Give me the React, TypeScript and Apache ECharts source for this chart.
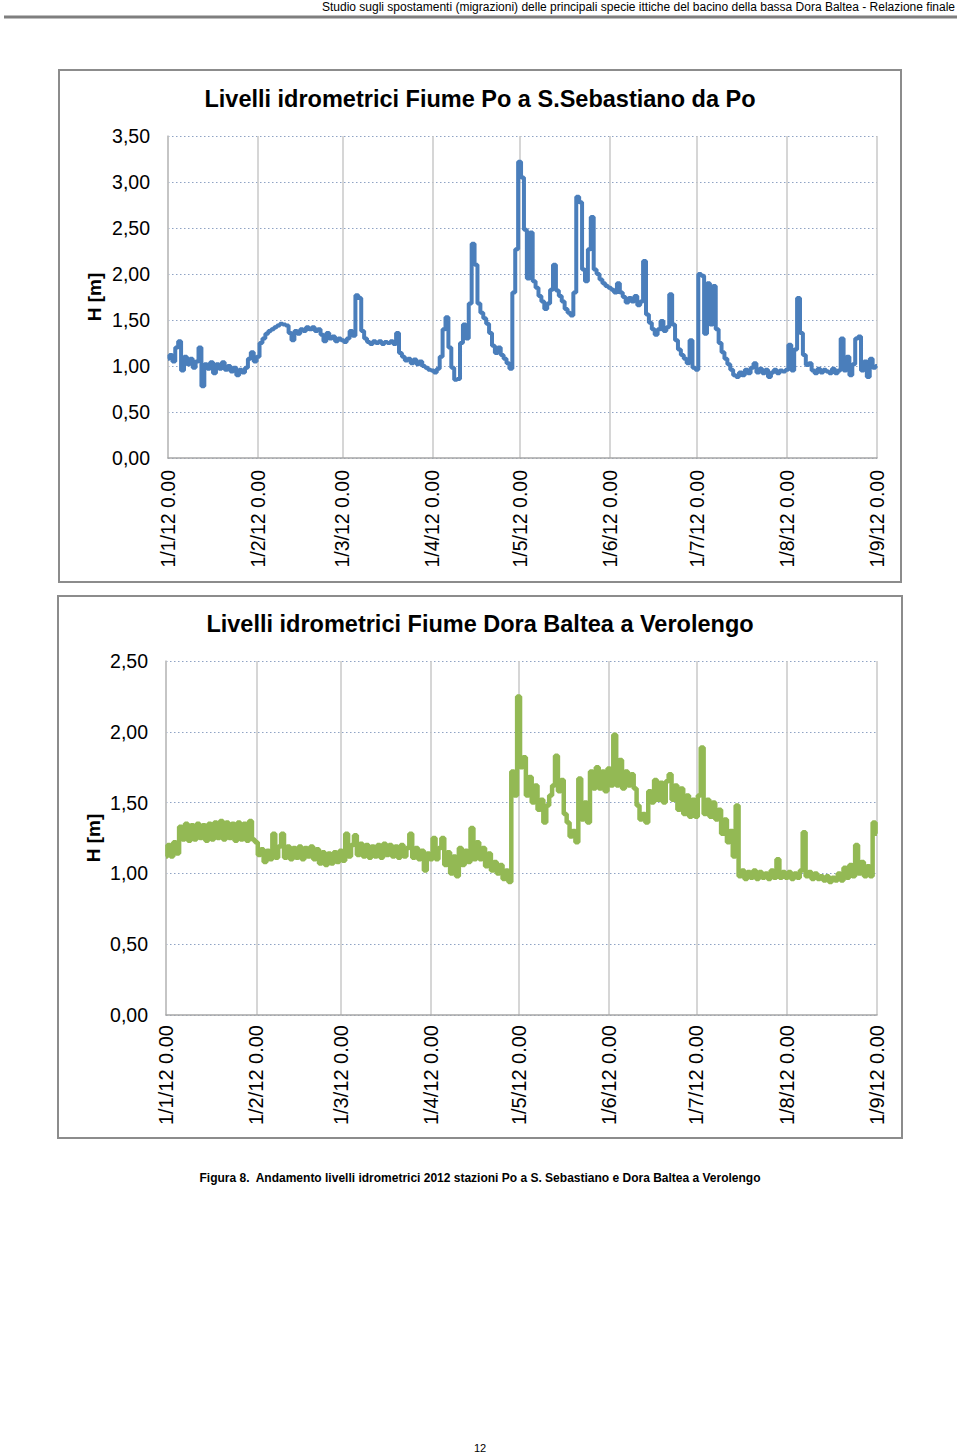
import React, { useEffect, useRef } from "react";
import * as echarts from "echarts";

// Day offsets (from 1 Jan 2012) of the month ticks and their labels
const monthTickDays = [0, 31, 60, 91, 121, 152, 182, 213, 244];
const monthTickLabels = [
  "1/1/12 0.00", "1/2/12 0.00", "1/3/12 0.00", "1/4/12 0.00", "1/5/12 0.00",
  "1/6/12 0.00", "1/7/12 0.00", "1/8/12 0.00", "1/9/12 0.00",
];

// Po a S.Sebastiano da Po, daily level [m], day 0 = 1/1/12 ... day 244 = 1/9/12
const poLevels = [
  // Jan
  1.08, 1.12, 1.05, 1.20, 1.27, 0.95, 1.10, 1.02, 1.08, 0.98, 1.05, 1.20, 0.78, 1.02, 0.97, 1.04,
  0.92, 1.02, 0.97, 1.04, 0.96, 1.00, 0.94, 0.98, 0.90, 0.96, 0.93, 0.98, 1.08, 1.15, 1.05,
  // Feb
  1.10, 1.25, 1.30, 1.35, 1.38, 1.40, 1.42, 1.44, 1.46, 1.45, 1.44, 1.36, 1.28, 1.38, 1.35, 1.40,
  1.38, 1.42, 1.40, 1.42, 1.38, 1.40, 1.34, 1.27, 1.36, 1.30, 1.32, 1.27, 1.30,
  // Mar
  1.28, 1.26, 1.30, 1.38, 1.33, 1.77, 1.74, 1.38, 1.30, 1.26, 1.24, 1.27, 1.25, 1.27, 1.24, 1.26,
  1.25, 1.27, 1.24, 1.36, 1.14, 1.10, 1.06, 1.08, 1.03, 1.07, 1.02, 1.05, 1.00, 0.98, 0.96,
  // Apr
  0.95, 0.93, 0.97, 1.10, 1.40, 1.53, 1.20, 0.98, 0.85, 0.86, 1.25, 1.45, 1.30, 1.68, 2.33, 2.10,
  1.68, 1.58, 1.52, 1.46, 1.36, 1.22, 1.14, 1.20, 1.12, 1.08, 1.03, 0.97, 1.80, 2.27,
  // May
  3.22, 3.05, 2.48, 1.95, 2.45, 1.92, 1.85, 1.76, 1.70, 1.62, 1.68, 1.83, 2.10, 1.82, 1.76, 1.70,
  1.62, 1.58, 1.55, 1.80, 2.84, 2.78, 2.05, 1.92, 2.27, 2.62, 2.05, 2.00, 1.94, 1.90, 1.87,
  // Jun
  1.85, 1.83, 1.80, 1.90, 1.80, 1.75, 1.69, 1.74, 1.70, 1.76, 1.66, 1.70, 2.14, 1.56, 1.47, 1.40,
  1.34, 1.40, 1.49, 1.38, 1.42, 1.78, 1.45, 1.28, 1.18, 1.12, 1.08, 1.03, 1.28, 0.98,
  // Jul
  0.96, 2.00, 1.98, 1.35, 1.90, 1.45, 1.87, 1.40, 1.25, 1.15, 1.08, 1.02, 0.96, 0.90, 0.88, 0.93,
  0.90, 0.96, 0.92, 0.98, 1.03, 0.93, 0.97, 0.92, 0.96, 0.88, 0.93, 0.96, 0.92, 0.95, 0.94,
  // Aug + 1/9
  0.96, 1.23, 0.95, 1.18, 1.74, 1.36, 1.12, 1.01, 1.03, 0.95, 0.92, 0.97, 0.93, 0.96, 0.94, 0.92,
  0.97, 0.92, 0.95, 1.30, 0.95, 1.10, 0.90, 1.02, 1.30, 1.32, 0.95, 1.05, 0.88, 1.08, 0.98, 1.00,
];

// Dora Baltea a Verolengo, daily level [m]
const doraLevels = [
  // Jan
  1.12, 1.20, 1.12, 1.22, 1.14, 1.33, 1.24, 1.35, 1.23, 1.34, 1.24, 1.35, 1.25, 1.34, 1.23, 1.35,
  1.24, 1.36, 1.25, 1.37, 1.24, 1.36, 1.25, 1.35, 1.23, 1.36, 1.24, 1.35, 1.23, 1.37, 1.24,
  // Feb
  1.22, 1.13, 1.17, 1.08, 1.16, 1.10, 1.28, 1.11, 1.19, 1.28, 1.11, 1.19, 1.10, 1.18, 1.11, 1.19,
  1.10, 1.18, 1.12, 1.19, 1.10, 1.17, 1.07, 1.15, 1.06, 1.14, 1.07, 1.15, 1.08,
  // Mar
  1.16, 1.09, 1.28, 1.12, 1.20, 1.27, 1.13, 1.21, 1.12, 1.20, 1.11, 1.19, 1.12, 1.20, 1.11, 1.21,
  1.13, 1.20, 1.12, 1.19, 1.11, 1.20, 1.12, 1.18, 1.28, 1.11, 1.18, 1.10, 1.16, 1.02, 1.14,
  // Apr
  1.10, 1.25, 1.10, 1.18, 1.25, 1.06, 1.15, 1.00, 1.12, 0.98, 1.18, 1.06, 1.16, 1.08, 1.32, 1.10,
  1.22, 1.10, 1.18, 1.05, 1.14, 1.02, 1.08, 1.00, 1.06, 0.96, 1.02, 0.94, 1.72, 1.55,
  // May
  2.25, 1.75, 1.82, 1.55, 1.68, 1.50, 1.62, 1.45, 1.52, 1.36, 1.48, 1.55, 1.62, 1.83, 1.58, 1.66,
  1.42, 1.36, 1.26, 1.30, 1.22, 1.67, 1.38, 1.50, 1.36, 1.72, 1.60, 1.75, 1.60, 1.72, 1.58,
  // Jun
  1.74, 1.62, 1.98, 1.62, 1.80, 1.60, 1.72, 1.62, 1.70, 1.60, 1.48, 1.38, 1.42, 1.36, 1.58, 1.50,
  1.66, 1.52, 1.64, 1.50, 1.65, 1.70, 1.52, 1.62, 1.45, 1.60, 1.42, 1.55, 1.40, 1.52,
  // Jul
  1.40, 1.55, 1.89, 1.42, 1.52, 1.40, 1.50, 1.38, 1.45, 1.28, 1.38, 1.22, 1.30, 1.12, 1.48, 0.98,
  1.02, 0.96, 1.01, 0.97, 1.02, 0.96, 1.01, 0.97, 1.00, 0.96, 1.02, 0.97, 1.10, 0.97, 1.01,
  // Aug + 1/9
  0.97, 1.01, 0.96, 1.00, 0.97, 1.02, 1.29, 0.98, 1.01, 0.96, 1.00, 0.96, 0.98, 0.95, 0.98, 0.94,
  0.97, 0.95, 1.00, 0.95, 1.04, 0.97, 1.06, 0.98, 1.20, 1.00, 1.08, 0.98, 1.05, 0.98, 1.36, 1.28,
];

const poMax = 3.5;
const doraMax = 2.5;
const yStep = 0.5;

const chartTitles = [
  "Livelli idrometrici Fiume Po a S.Sebastiano da Po",
  "Livelli idrometrici Fiume Dora Baltea a Verolengo",
];
const headerText =
  "Studio sugli spostamenti (migrazioni) delle principali specie ittiche del bacino della bassa Dora Baltea - Relazione finale";
const captionText =
  "Figura 8.  Andamento livelli idrometrici 2012 stazioni Po a S. Sebastiano e Dora Baltea a Verolengo";
const pageNumber = "12";

const FONT = '"Liberation Sans", Arial, Helvetica, sans-serif';

const fmtY = (v: number) => v.toFixed(2).replace(".", ",");
const fmtX = (v: number) => {
  const i = monthTickDays.indexOf(Math.round(v));
  return i >= 0 ? monthTickLabels[i] : "";
};

function xAxisFor(gridIndex: number, margin: number, fontSize: number) {
  return {
    type: "value",
    gridIndex,
    min: 0,
    max: monthTickDays[monthTickDays.length - 1],
    axisLine: { show: true, lineStyle: { color: "#a6a6a6", width: 1.5 } },
    axisTick: { show: false, customValues: monthTickDays },
    axisLabel: {
      customValues: monthTickDays,
      rotate: 90,
      margin,
      formatter: fmtX,
      color: "#000",
      fontSize,
      fontFamily: FONT,
    },
    splitLine: { show: true, lineStyle: { color: "#c8c8c8", width: 1.5 } },
  };
}

function yAxisFor(gridIndex: number, max: number, nameGap: number) {
  return {
    type: "value",
    gridIndex,
    min: 0,
    max,
    interval: yStep,
    name: "H [m]",
    nameLocation: "middle",
    nameRotate: 90,
    nameGap,
    nameMoveOverlap: false,
    nameTextStyle: { fontWeight: "bold", fontSize: 19, fontFamily: FONT, color: "#000" },
    axisLine: { show: true, lineStyle: { color: "#bfbfbf", width: 1.5 } },
    axisTick: { show: false },
    axisLabel: { formatter: fmtY, margin: 18, fontSize: 19.5, color: "#000", fontFamily: FONT },
    splitLine: { show: true, lineStyle: { color: "#8fa3c4", width: 1, type: [1.5, 2.5] } },
  };
}

export default function App() {
  const ref = useRef<HTMLDivElement>(null);

  useEffect(() => {
    if (!ref.current) return;
    const chart = echarts.init(ref.current, null, { renderer: "svg" });
    const option: any = {
      animation: false,
      backgroundColor: "#ffffff",
      title: [
        {
          text: chartTitles[0],
          left: "center",
          top: 82,
          textStyle: { fontSize: 23.5, fontWeight: "bold", fontFamily: FONT, color: "#000" },
        },
        {
          text: chartTitles[1],
          left: "center",
          top: 607,
          textStyle: { fontSize: 23.5, fontWeight: "bold", fontFamily: FONT, color: "#000" },
        },
      ],
      grid: [
        { left: 168, top: 136, width: 709, height: 322, outerBoundsMode: "none" },
        { left: 166, top: 661, width: 711, height: 354, outerBoundsMode: "none" },
      ],
      xAxis: [xAxisFor(0, 12, 19.5), xAxisFor(1, 10, 20)],
      yAxis: [yAxisFor(0, poMax, 64), yAxisFor(1, doraMax, 63)],
      series: [
        {
          name: "Po a S.Sebastiano da Po",
          type: "line",
          xAxisIndex: 0,
          yAxisIndex: 0,
          data: poLevels.map((v, i) => [i, v]),
          step: "middle",
          showSymbol: false,
          symbol: "none",
          silent: true,
          lineStyle: { color: "#4a7ebb", width: 4 },
          itemStyle: { color: "#4a7ebb" },
        },
        {
          name: "Dora Baltea a Verolengo",
          type: "line",
          xAxisIndex: 1,
          yAxisIndex: 1,
          data: doraLevels.map((v, i) => [i, v]),
          step: "middle",
          showSymbol: false,
          symbol: "none",
          silent: true,
          lineStyle: { color: "#93b954", width: 4.5 },
          itemStyle: { color: "#93b954" },
        },
      ],
      graphic: [
        {
          type: "text",
          x: 955,
          y: 7,
          style: {
            text: headerText,
            align: "right",
            verticalAlign: "middle",
            fontSize: 12,
            fontFamily: FONT,
            fill: "#000",
          },
        },
        {
          type: "line",
          shape: { x1: 4, y1: 17, x2: 957, y2: 17 },
          style: { stroke: "#7f7f7f", lineWidth: 3 },
        },
        {
          type: "rect",
          shape: { x: 59, y: 70, width: 842, height: 512 },
          style: { fill: "none", stroke: "#8c8c8c", lineWidth: 2 },
        },
        {
          type: "rect",
          shape: { x: 58, y: 596, width: 844, height: 542 },
          style: { fill: "none", stroke: "#8c8c8c", lineWidth: 2 },
        },
        {
          type: "text",
          x: 480,
          y: 1178,
          style: {
            text: captionText,
            align: "center",
            verticalAlign: "middle",
            fontSize: 12,
            fontWeight: "bold",
            fontFamily: FONT,
            fill: "#000",
          },
        },
        {
          type: "text",
          x: 480,
          y: 1448,
          style: {
            text: pageNumber,
            align: "center",
            verticalAlign: "middle",
            fontSize: 11,
            fontFamily: FONT,
            fill: "#000",
          },
        },
      ],
    };
    chart.setOption(option);
    return () => chart.dispose();
  }, []);

  return (
    <div
      ref={ref}
      style={{ position: "absolute", left: 0, top: 0, width: 960, height: 1455, background: "#fff" }}
    />
  );
}
